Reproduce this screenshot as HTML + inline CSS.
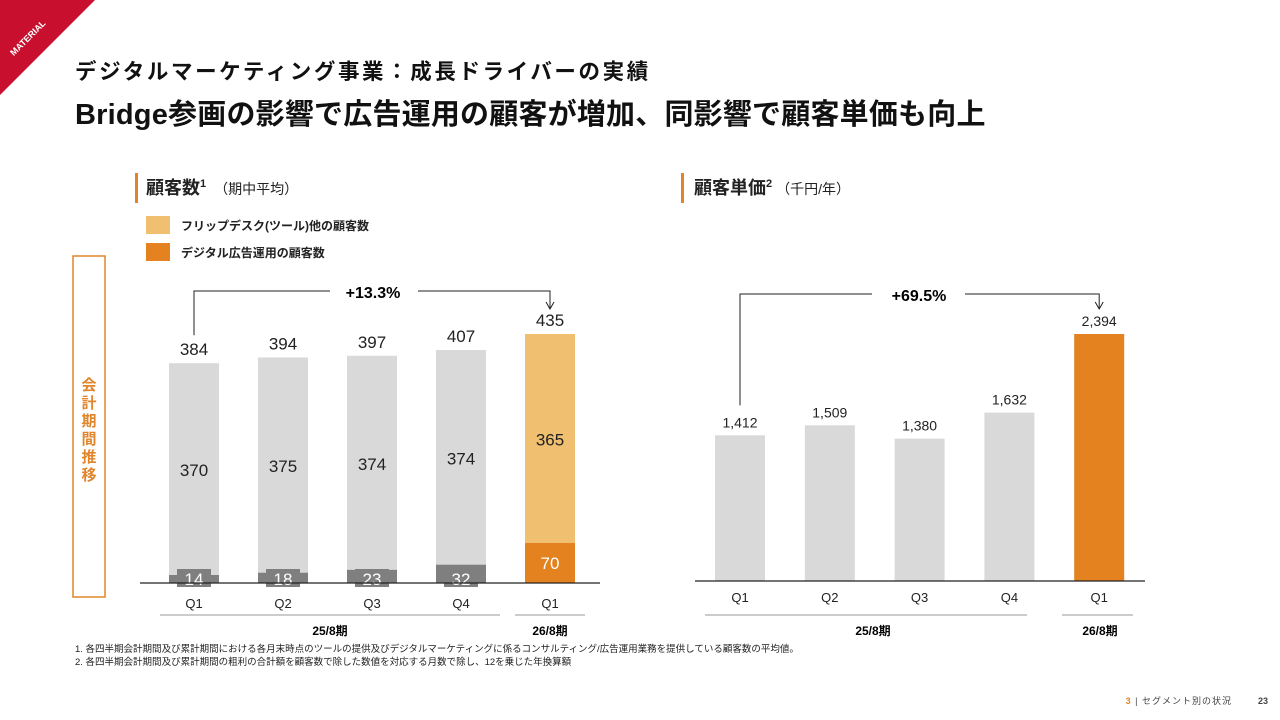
<!DOCTYPE html>
<html><head><meta charset="utf-8"><style>
body{margin:0;width:1280px;height:720px;background:#fff;overflow:hidden;font-family:"Liberation Sans","Noto Sans CJK JP",sans-serif;}
svg{position:absolute;left:0;top:0}
</style></head><body>
<svg id="s" width="1280" height="720" xmlns="http://www.w3.org/2000/svg" font-family="Liberation Sans, Noto Sans CJK JP, sans-serif">
<polygon points="0,0 95,0 0,95" fill="#c8102e"/>
<text x="30" y="40" fill="#fff" font-size="9" font-weight="bold" transform="rotate(-45 30 40)" text-anchor="middle">MATERIAL</text>
<text x="75" y="79" font-size="21.5" font-weight="bold" fill="#111" letter-spacing="2.6">デジタルマーケティング事業：成長ドライバーの実績</text>
<text x="75" y="124" font-size="29" font-weight="bold" fill="#111" letter-spacing="0.2">Bridge参画の影響で広告運用の顧客が増加、同影響で顧客単価も向上</text>
<rect x="135" y="173" width="3" height="30" fill="#e0852a"/>
<text x="146" y="194" font-size="18" font-weight="bold" fill="#222">顧客数<tspan font-size="11" dy="-7">1</tspan><tspan font-size="14" font-weight="normal" dy="7" dx="8">（期中平均）</tspan></text>
<rect x="681" y="173" width="3" height="30" fill="#e0852a"/>
<text x="694" y="194" font-size="18" font-weight="bold" fill="#222">顧客単価<tspan font-size="11" dy="-7">2</tspan><tspan font-size="14" font-weight="normal" dy="7" dx="4">（千円/年）</tspan></text>
<g>
<rect x="146" y="216" width="24" height="18" fill="#f0c070"/><text x="181" y="230" font-size="12" font-weight="bold" fill="#222">フリップデスク(ツール)他の顧客数</text>
<rect x="146" y="243" width="24" height="18" fill="#e3821f"/><text x="181" y="257" font-size="12" font-weight="bold" fill="#222">デジタル広告運用の顧客数</text>
</g>
<rect x="73" y="256" width="32" height="341" fill="none" stroke="#e0852a" stroke-width="1.5"/>
<text x="89" y="390" font-size="15" font-weight="bold" fill="#e0852a" text-anchor="middle"><tspan x="89" dy="0">会</tspan><tspan x="89" dy="18">計</tspan><tspan x="89" dy="18">期</tspan><tspan x="89" dy="18">間</tspan><tspan x="89" dy="18">推</tspan><tspan x="89" dy="18">移</tspan></text>
<g id="left"></g>
<g id="right"></g>
<text x="75" y="652" font-size="9.5" fill="#222">1. 各四半期会計期間及び累計期間における各月末時点のツールの提供及びデジタルマーケティングに係るコンサルティング/広告運用業務を提供している顧客数の平均値。</text>
<text x="75" y="665" font-size="9.5" fill="#222">2. 各四半期会計期間及び累計期間の粗利の合計額を顧客数で除した数値を対応する月数で除し、12を乗じた年換算額</text>
<text x="1232" y="704" font-size="9" fill="#444" text-anchor="end" letter-spacing="1"><tspan fill="#e0852a" font-weight="bold">3</tspan>  |  セグメント別の状況</text>
<text x="1268" y="704" font-size="9" font-weight="bold" fill="#444" text-anchor="end">23</text>
</svg>
<script>
const categories=["Q1","Q2","Q3","Q4","Q1"];
const adCustomers=[14,18,23,32,70];
const toolCustomers=[370,375,374,374,365];
const totalCustomers=[384,394,397,407,435];
const unitPrice=[1412,1509,1380,1632,2394];
const NS="http://www.w3.org/2000/svg";
function mk(p,t,a,txt){const e=document.createElementNS(NS,t);for(const k in a)e.setAttribute(k,a[k]);if(txt!==undefined)e.textContent=txt;p.appendChild(e);return e;}
// left chart
const L=document.getElementById('left');
const lBase=583,lScale=249/435,lX=i=>194+i*89,bw=50;
const ly=v=>lBase-v*lScale;
categories.forEach((c,i)=>{
 const last=i===4;
 const yt=ly(totalCustomers[i]),ya=ly(adCustomers[i]);
 let r=mk(L,'rect',{x:lX(i)-bw/2,y:yt,width:bw,height:ya-yt,fill:last?'#f0c070':'#d9d9d9'});
 
 r=mk(L,'rect',{x:lX(i)-bw/2,y:ya,width:bw,height:lBase-ya,fill:last?'#e3821f':'#7f7f7f'});
 
 mk(L,'text',{x:lX(i),y:(yt+ya)/2+7,'font-size':17,'text-anchor':'middle',fill:'#222'},toolCustomers[i]);
 if(!last){mk(L,'rect',{x:lX(i)-17,y:lBase-14,width:34,height:18,fill:'#7f7f7f'});}
 mk(L,'text',{x:lX(i),y:last?ya+26:lBase+2,'font-size':17,'text-anchor':'middle',fill:'#fff'},adCustomers[i]);
 mk(L,'text',{x:lX(i),y:yt-8,'font-size':17,'text-anchor':'middle',fill:'#222'},totalCustomers[i]);
 mk(L,'text',{x:lX(i),y:608,'font-size':13,'text-anchor':'middle',fill:'#222'},c);
});
mk(L,'line',{x1:140,x2:600,y1:lBase,y2:lBase,stroke:'#222','stroke-width':1.2});
mk(L,'line',{x1:160,x2:500,y1:615,y2:615,stroke:'#999'});
mk(L,'line',{x1:515,x2:585,y1:615,y2:615,stroke:'#999'});
mk(L,'text',{x:330,y:635,'font-size':12,'font-weight':'bold','text-anchor':'middle'},'25/8期');
mk(L,'text',{x:550,y:635,'font-size':12,'font-weight':'bold','text-anchor':'middle'},'26/8期');
mk(L,'path',{d:`M${lX(0)},${ly(totalCustomers[0])-28} V291 H330 M418,291 H${lX(4)} V${ly(totalCustomers[4])-26}`,fill:'none',stroke:'#222'});
mk(L,'path',{d:`M${lX(4)-4},${ly(totalCustomers[4])-32} L${lX(4)},${ly(totalCustomers[4])-25} L${lX(4)+4},${ly(totalCustomers[4])-32}`,fill:'none',stroke:'#222'});
mk(L,'text',{x:373,y:298,'font-size':16,'font-weight':'bold','text-anchor':'middle'},'+13.3%');
// right chart
const R=document.getElementById('right');
const rBase=581,rScale=247/2394,rX=i=>740+i*89.8;
const ry=v=>rBase-v*rScale;
categories.forEach((c,i)=>{
 const last=i===4;
 const r=mk(R,'rect',{x:rX(i)-bw/2,y:ry(unitPrice[i]),width:bw,height:rBase-ry(unitPrice[i]),fill:last?'#e3821f':'#d9d9d9'});
 
 mk(R,'text',{x:rX(i),y:ry(unitPrice[i])-8,'font-size':14,'text-anchor':'middle',fill:'#222'},unitPrice[i].toLocaleString('en-US'));
 mk(R,'text',{x:rX(i),y:602,'font-size':13,'text-anchor':'middle',fill:'#222'},c);
});
mk(R,'line',{x1:695,x2:1145,y1:rBase,y2:rBase,stroke:'#222','stroke-width':1.2});
mk(R,'line',{x1:705,x2:1027,y1:615,y2:615,stroke:'#999'});
mk(R,'line',{x1:1062,x2:1133,y1:615,y2:615,stroke:'#999'});
mk(R,'text',{x:873,y:635,'font-size':12,'font-weight':'bold','text-anchor':'middle'},'25/8期');
mk(R,'text',{x:1100,y:635,'font-size':12,'font-weight':'bold','text-anchor':'middle'},'26/8期');
mk(R,'path',{d:`M${rX(0)},${ry(unitPrice[0])-30} V294 H872 M965,294 H${rX(4)} V308`,fill:'none',stroke:'#222'});
mk(R,'path',{d:`M${rX(4)-4},302 L${rX(4)},309 L${rX(4)+4},302`,fill:'none',stroke:'#222'});
mk(R,'text',{x:919,y:301,'font-size':16,'font-weight':'bold','text-anchor':'middle'},'+69.5%');
</script>
</body></html>
